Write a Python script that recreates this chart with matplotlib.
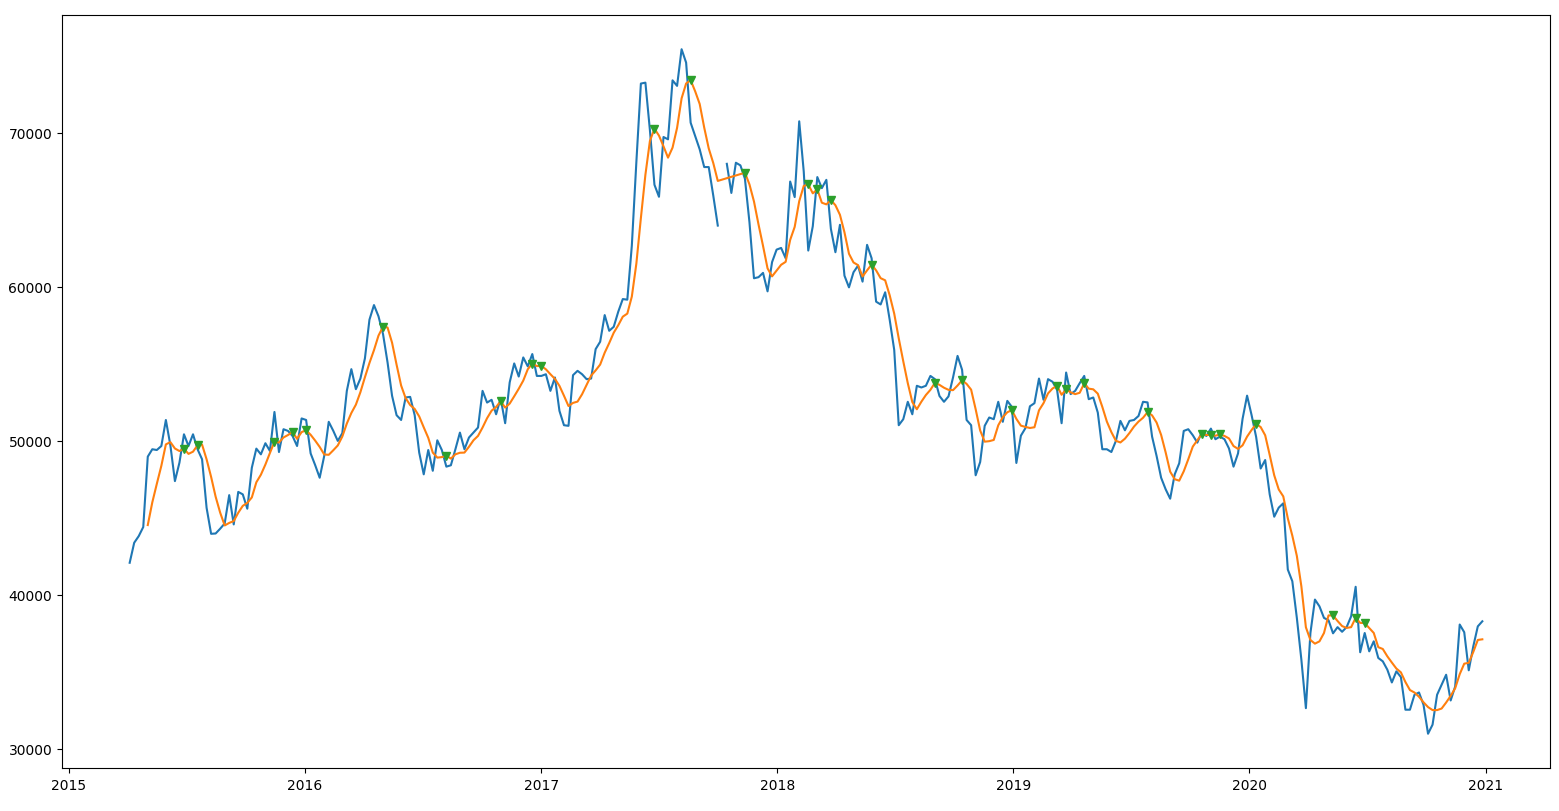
import numpy as np
import pandas as pd
import matplotlib
matplotlib.use("Agg")
import matplotlib.pyplot as plt

# weekly closing values, first week starting 2015-04-05 (one missing week -> None)
start_date = "2015-04-05"
price = [
    42080, 43380, 43810, 44400, 48970, 49450, 49400, 49660, 51350, 49700,
    47380, 48580, 50420, 49660, 50420, 49450, 48800, 45650, 43960, 43980,
    44290, 44630, 46470, 44570, 46680, 46520, 45590, 48250, 49490, 49120,
    49840, 49340, 51870, 49270, 50750, 50640, 50310, 49660, 51450, 51350,
    49180, 48420, 47600, 49010, 51230, 50650, 49990, 50490, 53240, 54650,
    53350, 54040, 55350, 57860, 58810, 58080, 56930, 55090, 52920, 51660,
    51350, 52810, 52850, 51660, 49230, 47820, 49400, 48050, 50030, 49400,
    48320, 48410, 49450, 50530, 49450, 50210, 50530, 50860, 53240, 52480,
    52660, 51720, 52760, 51140, 53790, 55020, 54170, 55410, 54830, 55630,
    54210, 54210, 54320, 53240, 54110, 51940, 51010, 50970, 54260, 54540,
    54320, 54000, 54040, 55950, 56430, 58160, 57140, 57400, 58380, 59200,
    59160, 62670, 68090, 73190, 73250, 70150, 66620, 65840, 69720, 69570,
    73400, 73040, 75420, 74550, 70650, 69780, 68920, 67770, 67770, 65920,
    63970, None, 67980, 66090, 68050, 67880, 67010, 64190, 60550, 60620,
    60900, 59700, 61600, 62410, 62520, 61850, 66830, 65820, 70740, 67480,
    62350, 63930, 67120, 66400, 66940, 63760, 62240, 64020, 60720, 59960,
    60940, 61370, 60330, 62720, 61850, 59030, 58850, 59640, 57850, 55900,
    51010, 51400, 52530, 51720, 53570, 53460, 53570, 54210, 54000, 52910,
    52530, 52880, 54110, 55510, 54610, 51350, 51010, 47760, 48620, 50970,
    51510, 51400, 52530, 51230, 52590, 52200, 48560, 50330, 50820, 52240,
    52440, 54040, 52660, 54000, 53830, 53300, 51140, 54430, 53030, 53240,
    53740, 54210, 52700, 52810, 51830, 49450, 49450, 49270, 49990, 51290,
    50680, 51290, 51350, 51610, 52530, 52490, 50270, 49010, 47600, 46850,
    46240, 47820, 48540, 50640, 50750, 50360, 49880, 50570, 50310, 50790,
    50100, 50270, 50100, 49500, 48320, 49180, 51420, 52930, 51660, 50250,
    48200, 48750, 46520, 45070, 45660, 45940, 41640, 40880, 38500, 35790,
    32640, 37520, 39690, 39250, 38500, 38350, 37500, 37900, 37600, 37900,
    38600, 40520, 36270, 37520, 36330, 36980, 35900, 35680, 35140, 34310,
    35030, 34660, 32540, 32540, 33510, 33660, 32860, 30980, 31570, 33510,
    34160, 34810, 33140, 34050, 38070, 37570, 35100, 36650, 37950, 38280,
]
window = 5
# weeks (index into price) where a signal marker sits on the moving average
signal_idx = [12, 15, 32, 36, 39, 56, 70, 82, 89, 91, 116, 124, 136, 150, 152,
              155, 164, 178, 184, 195, 205, 207, 211, 225, 237, 239, 241, 249,
              266, 271, 273]

dates = pd.date_range(start_date, periods=len(price), freq="W-SUN")
s = pd.Series(price, index=dates, dtype=float)
ma = s.rolling(window).mean()
ma_ok = ma.dropna()

fig = plt.figure(figsize=(15.59, 8.12), dpi=100)
ax = fig.add_subplot(111)
ax.plot(s.index, s.values)
ax.plot(ma_ok.index, ma_ok.values)
ax.plot(ma.index[signal_idx], ma.values[signal_idx], "v")
fig.subplots_adjust(left=0.0398, right=0.9942, bottom=0.053, top=0.9803)
fig.savefig("out.png", dpi=100)
